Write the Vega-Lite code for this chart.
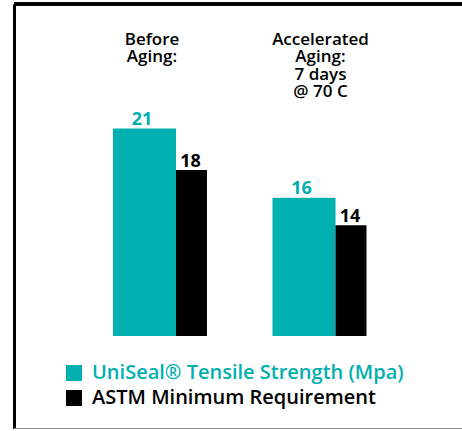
{
  "$schema": "https://vega.github.io/schema/vega-lite/v6.json",
  "width": 448,
  "height": 425,
  "autosize": {"type": "none"},
  "padding": {"left": 14, "top": 4, "right": 0, "bottom": 0},
  "background": "white",
  "config": {
    "view": {"stroke": null},
    "font": "Open Sans"
  },
  "data": {
    "values": [
      {"condition": "Before Aging:", "series": "UniSeal® Tensile Strength (Mpa)", "value": 21},
      {"condition": "Before Aging:", "series": "ASTM Minimum Requirement", "value": 18},
      {"condition": "Accelerated Aging: 7 days @ 70 C", "series": "UniSeal® Tensile Strength (Mpa)", "value": 16},
      {"condition": "Accelerated Aging: 7 days @ 70 C", "series": "ASTM Minimum Requirement", "value": 14}
    ]
  },
  "encoding": {
    "x": {
      "field": "condition",
      "type": "nominal",
      "sort": null,
      "scale": {"paddingInner": 0, "paddingOuter": 0.4044, "align": 0.5136},
      "axis": {
        "orient": "top",
        "title": null,
        "domain": false,
        "ticks": false,
        "grid": false,
        "offset": -27,
        "labelPadding": 0,
        "labelBaseline": "top",
        "labelAngle": 0,
        "labelFontSize": 17,
        "labelFontWeight": 600,
        "labelColor": "black",
        "labelLineHeight": 17.5,
        "labelOffset": {"condition": {"test": "datum.value == 'Before Aging:'", "value": -8}, "value": 1},
        "labelExpr": "datum.value == 'Before Aging:' ? ['Before', 'Aging:'] : ['Accelerated', 'Aging:', '7 days', '@ 70 C']"
      }
    },
    "y": {
      "field": "value",
      "type": "quantitative",
      "scale": {"domain": [-0.72, 30], "nice": false, "zero": false},
      "axis": {
        "orient": "left",
        "title": null,
        "labels": false,
        "ticks": false,
        "grid": false,
        "domain": true,
        "domainColor": "black",
        "domainWidth": 3
      }
    },
    "color": {
      "field": "series",
      "type": "nominal",
      "scale": {
        "domain": ["UniSeal® Tensile Strength (Mpa)", "ASTM Minimum Requirement"],
        "range": ["#00AFAF", "#000000"]
      },
      "legend": {
        "orient": "none",
        "legendX": 50,
        "legendY": 359,
        "title": null,
        "padding": 0,
        "symbolType": "square",
        "symbolSize": 256,
        "symbolStrokeWidth": 0,
        "symbolOpacity": 1,
        "labelFontSize": 20,
        "labelFontWeight": 600,
        "labelOffset": 8,
        "labelLimit": 400,
        "rowPadding": 5,
        "encode": {
          "labels": {
            "update": {
              "fill": [
                {"test": "datum.label === 'ASTM Minimum Requirement'", "value": "#000000"},
                {"value": "#00AFAF"}
              ]
            }
          }
        }
      }
    }
  },
  "layer": [
    {
      "mark": {"type": "rule", "color": "black", "strokeWidth": 3},
      "encoding": {"y": {"datum": 30}, "x": null, "color": null}
    },
    {
      "mark": {"type": "rule", "color": "#888888", "strokeWidth": 1.5},
      "encoding": {"y": {"datum": -0.72}, "x": null, "color": null}
    },
    {
      "transform": [{"filter": "datum.series === 'UniSeal® Tensile Strength (Mpa)'"}],
      "layer": [
        {"mark": {"type": "bar", "width": 63, "xOffset": -15.5}, "encoding": {"y2": {"datum": 6}}},
        {"mark": {"type": "text", "xOffset": -18, "dy": -4, "baseline": "alphabetic", "fontSize": 18, "fontWeight": "bold"}, "encoding": {"text": {"field": "value", "type": "quantitative"}}}
      ]
    },
    {
      "transform": [{"filter": "datum.series === 'ASTM Minimum Requirement'"}],
      "layer": [
        {"mark": {"type": "bar", "width": 31, "xOffset": 31.5}, "encoding": {"y2": {"datum": 6}}},
        {"mark": {"type": "text", "xOffset": 30.5, "dy": -3, "baseline": "alphabetic", "fontSize": 18, "fontWeight": "bold"}, "encoding": {"text": {"field": "value", "type": "quantitative"}}}
      ]
    }
  ]
}
